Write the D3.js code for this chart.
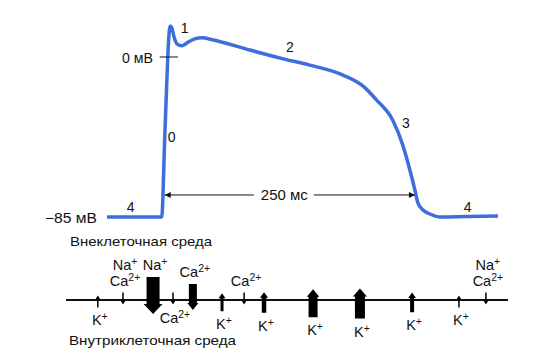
<!DOCTYPE html>
<html>
<head>
<meta charset="utf-8">
<script src="https://cdn.jsdelivr.net/npm/d3@7"></script>
<style>
  body { margin: 0; background: #fff; }
  svg { font-family: "Liberation Sans", Arial, sans-serif; }
</style>
</head>
<body>
<svg width="540" height="359"></svg>
<script>
// action potential, ms / mV
const time    = [-54, 0, 3, 6, 7.5, 8.5, 10, 12, 15, 20, 25, 32, 40, 50, 87, 120, 146, 179, 200, 212, 228, 238, 245, 250, 253, 258, 265, 275, 300, 332];
const voltage = [-85, -85, -43, 0, 14, 16.5, 15.5, 11, 7, 6, 7.5, 9.5, 10.2, 9.2, 3.7, -1, -4.3, -9.6, -16, -22.8, -33.5, -46.8, -60, -70.7, -77.6, -81.3, -83.4, -85, -84.8, -84.5];

const phaseNames = ['4', '0', '1', '2', '3', '4'];
const phaseTime  = [-30.6, 9.9, 22.7, 126.5, 241, 302];
const phaseVolt  = [-82.4, -45.2, 12.8, 2.7, -37.7, -82.4];

const durationMs = 250;
const voltTicks = [0, -85];

// ion currents across the membrane (position 0..100 along the membrane)
const channelPos  = [7.2, 12.9, 19.7, 24.2, 28.7, 35.3, 40.3, 44.8, 55.9, 66.5, 78.3, 88.9, 95.0];
const channelDir  = ['out', 'in', 'in', 'in', 'in', 'out', 'in', 'out', 'out', 'out', 'out', 'out', 'in'];
const channelFlux = [1, 1, 5, 1, 3, 2, 1, 2.3, 3.5, 4, 2.2, 1, 1];
const channelIons = [['K+'], ['Na+', 'Ca2+'], ['Na+'], ['Ca2+'], ['Ca2+'], ['K+'], ['Ca2+'], ['K+'], ['K+'], ['K+'], ['K+'], ['K+'], ['Na+', 'Ca2+']];
const channelSide = ['below', 'above', 'above', 'below', 'above', 'below', 'above', 'below', 'below', 'below', 'below', 'below', 'above'];

const svg = d3.select('svg');
const blue = '#3c6fdc';

const x = d3.scaleLinear().domain([-54, 332]).range([107, 498]);
const y = d3.scaleLinear().domain([-85, 0]).range([217, 57]);

const apData = time.map((t, i) => ({t: t, v: voltage[i]}));

svg.append('path')
  .datum(apData)
  .attr('fill', 'none')
  .attr('stroke', blue)
  .attr('stroke-width', 3.5)
  .attr('stroke-linejoin', 'round')
  .attr('d', d3.line().x(d => x(d.t)).y(d => y(d.v)).curve(d3.curveMonotoneX));

// 0 mV tick
svg.append('line')
  .attr('x1', x(-2)).attr('x2', x(16))
  .attr('y1', y(0)).attr('y2', y(0))
  .attr('stroke', '#111').attr('stroke-width', 1);

svg.selectAll('.vlabel')
  .data(voltTicks)
  .enter()
  .append('text')
  .attr('class', 'vlabel')
  .attr('x', d => d == 0 ? 153 : 97)
  .attr('y', d => y(d) + 6)
  .attr('text-anchor', 'end')
  .attr('font-size', 14)
  .attr('fill', '#111')
  .attr('textLength', d => d == 0 ? 31 : 52)
  .attr('lengthAdjust', 'spacingAndGlyphs')
  .text(d => (d < 0 ? '\u2212' + Math.abs(d) : d) + ' мВ');

svg.selectAll('.phase')
  .data(phaseNames)
  .enter()
  .append('text')
  .attr('class', 'phase')
  .attr('x', (d, i) => x(phaseTime[i]))
  .attr('y', (d, i) => y(phaseVolt[i]))
  .attr('text-anchor', 'middle')
  .attr('font-size', 14)
  .attr('fill', '#111')
  .text(d => d);

// 250 ms duration marker
const defs = svg.append('defs');
defs.append('marker')
  .attr('id', 'tip')
  .attr('viewBox', '0 0 10 10')
  .attr('refX', 10).attr('refY', 5)
  .attr('markerWidth', 12).attr('markerHeight', 6)
  .attr('markerUnits', 'userSpaceOnUse')
  .attr('orient', 'auto')
  .append('path')
  .attr('d', 'M0,0L10,5L0,10Z')
  .attr('fill', '#111');

const durY = y(-73.3);
const x0 = x(0) + 3, x1 = x(durationMs);
const mid = (x0 + x1) / 2 - 6;

svg.append('line')
  .attr('x1', mid - 30).attr('x2', x0)
  .attr('y1', durY).attr('y2', durY)
  .attr('stroke', '#111').attr('stroke-width', 1)
  .attr('marker-end', 'url(#tip)');
svg.append('line')
  .attr('x1', mid + 30).attr('x2', x1)
  .attr('y1', durY).attr('y2', durY)
  .attr('stroke', '#111').attr('stroke-width', 1)
  .attr('marker-end', 'url(#tip)');
svg.append('text')
  .attr('x', mid - 23).attr('y', durY + 5)
  .attr('font-size', 14)
  .attr('fill', '#111')
  .attr('textLength', 47)
  .attr('lengthAdjust', 'spacingAndGlyphs')
  .text(durationMs + ' мс');

// membrane
const memY = 300;
const memX = d3.scaleLinear().domain([0, 100]).range([66, 508]);

svg.append('text').attr('x', 70).attr('y', 246).attr('font-size', 13.5).attr('fill', '#111')
  .attr('textLength', 142).attr('lengthAdjust', 'spacingAndGlyphs').text('Внеклеточная среда');
svg.append('text').attr('x', 69).attr('y', 345).attr('font-size', 13.5).attr('fill', '#111')
  .attr('textLength', 167).attr('lengthAdjust', 'spacingAndGlyphs').text('Внутриклеточная среда');

svg.append('line')
  .attr('x1', memX(0)).attr('x2', memX(100))
  .attr('y1', memY).attr('y2', memY)
  .attr('stroke', '#111').attr('stroke-width', 2);

const bodyW = d3.scaleLinear().domain([1, 2, 3, 4, 5]).range([1.5, 3, 8, 10, 13]);
const arrLen = d3.scaleLinear().domain([1, 2, 3, 4, 5]).range([12, 18, 26, 30, 37]);
const headW = d3.scaleLinear().domain([1, 2, 3, 4, 5]).range([5, 7, 11, 14, 19]);
const headL = d3.scaleLinear().domain([1, 2, 3, 4, 5]).range([4, 5, 7, 8, 10]);

const channels = channelPos.map((p, i) => {
  const f = channelFlux[i];
  const s = channelDir[i] == 'out' ? -1 : 1; // -1 points up
  const L = arrLen(f);
  const base = memY - s * 0.62 * L;
  const tip = memY + s * 0.38 * L;
  return {cx: memX(p), s: s, w: bodyW(f), hw: headW(f), hl: headL(f), base: base, tip: tip,
          top: Math.min(base, tip), bottom: Math.max(base, tip), ions: channelIons[i], side: channelSide[i]};
});

svg.selectAll('.flux')
  .data(channels)
  .enter()
  .append('path')
  .attr('class', 'flux')
  .attr('fill', '#000')
  .attr('d', d => {
    const neck = d.tip - d.s * d.hl;
    return 'M' + (d.cx - d.w / 2) + ',' + d.base +
      'L' + (d.cx - d.w / 2) + ',' + neck +
      'L' + (d.cx - d.hw / 2) + ',' + neck +
      'L' + d.cx + ',' + d.tip +
      'L' + (d.cx + d.hw / 2) + ',' + neck +
      'L' + (d.cx + d.w / 2) + ',' + neck +
      'L' + (d.cx + d.w / 2) + ',' + d.base + 'Z';
  });

channels.forEach(d => {
  d.ions.forEach((ion, k) => {
    const m = ion.match(/^([A-Za-z]+)(.*)$/);
    let ty;
    if (d.side == 'above') ty = d.top - 7 - (d.ions.length - 1 - k) * 16;
    else ty = d.bottom + 18 + k * 16;
    const t = svg.append('text')
      .attr('x', d.cx + 2).attr('y', ty)
      .attr('text-anchor', 'middle')
      .attr('font-size', 14.5)
      .attr('fill', '#111');
    t.append('tspan').text(m[1]);
    t.append('tspan').attr('dy', -5).attr('font-size', 10.5).text(m[2]);
  });
});
</script>
</body>
</html>
